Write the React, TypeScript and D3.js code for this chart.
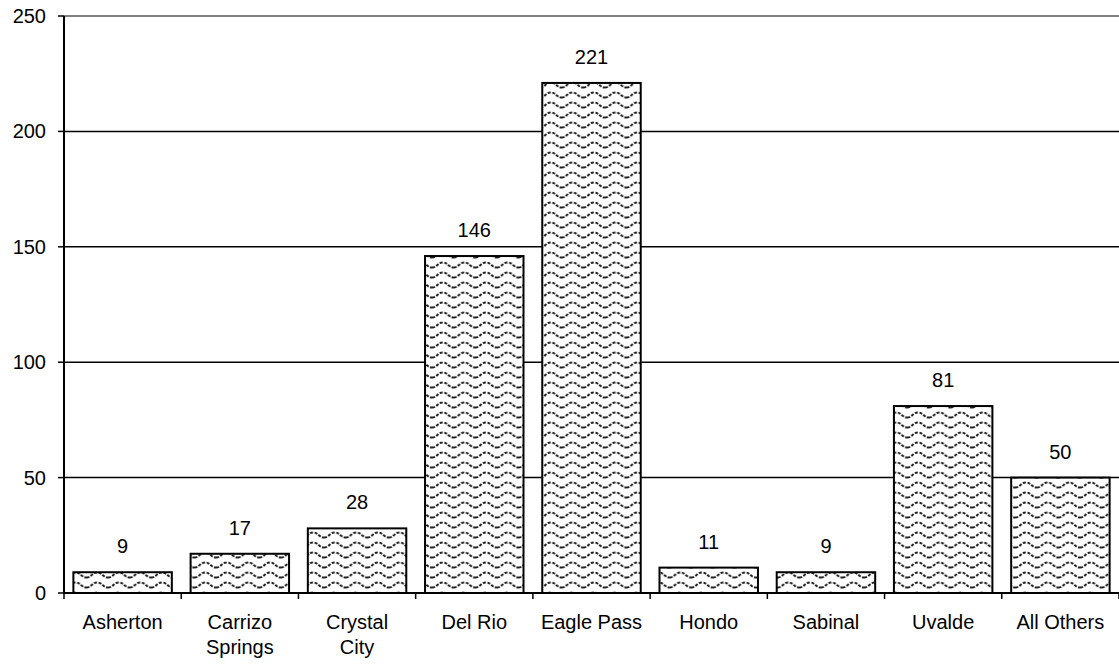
import React from "react";
import * as d3 from "d3";

const categories: string[][] = [
  ["Asherton"],
  ["Carrizo", "Springs"],
  ["Crystal", "City"],
  ["Del Rio"],
  ["Eagle Pass"],
  ["Hondo"],
  ["Sabinal"],
  ["Uvalde"],
  ["All Others"],
];
const values: number[] = [9, 17, 28, 146, 221, 11, 9, 81, 50];
const yTicks: number[] = [0, 50, 100, 150, 200, 250];

const W = 1119;
const H = 666;
const left = 64;
const right = 1119;
const top = 16;
const bottom = 593;

export default function App() {
  const ids = categories.map((_, i) => String(i));
  const x = d3.scaleBand<string>().domain(ids).range([left, right]).paddingInner(0.16).paddingOuter(0.08);
  const xTick = d3.scaleLinear().domain([0, categories.length]).range([left, right]);
  const y = d3.scaleLinear().domain([0, 250]).range([bottom, top]);
  const font = "'Liberation Sans', Arial, sans-serif";
  const fs = 20;

  return (
    <svg
      width={W}
      height={H}
      style={{ position: "absolute", left: 0, top: 0, background: "#fff" }}
    >
      <defs>
        <pattern id="wave" patternUnits="userSpaceOnUse" width={21.6} height={10}>
          <rect width={21.6} height={10} fill="#fff" />
          <path
            d="M0,7.5 C5.4,7.5 5.4,2.5 10.8,2.5 C16.2,2.5 16.2,7.5 21.6,7.5"
            fill="none"
            stroke="#1e1e1e"
            strokeWidth={2}
            strokeDasharray="3 1.5"
          />
        </pattern>
      </defs>

      {/* top border */}
      <line x1={left} x2={right} y1={top} y2={top} stroke="#808080" strokeWidth={2} />

      {/* gridlines */}
      {yTicks
        .filter((t) => t !== 0 && t !== 250)
        .map((t) => (
          <line key={t} x1={left} x2={right} y1={y(t)} y2={y(t)} stroke="#000" strokeWidth={1.5} />
        ))}

      {/* bars */}
      {values.map((v, i) => (
        <g key={i}>
          <rect
            x={x(String(i))}
            y={y(v)}
            width={x.bandwidth()}
            height={bottom - y(v)}
            fill="url(#wave)"
            stroke="#000"
            strokeWidth={2}
          />
          <text
            x={(x(String(i)) as number) + x.bandwidth() / 2}
            y={y(v) - 19}
            textAnchor="middle"
            fontFamily={font}
            fontSize={fs}
            fill="#000"
          >
            {v}
          </text>
        </g>
      ))}

      {/* y axis */}
      <line x1={left} x2={left} y1={top} y2={bottom} stroke="#000" strokeWidth={2} />
      {yTicks.map((t) => (
        <g key={t}>
          <line x1={left - 6} x2={left} y1={y(t)} y2={y(t)} stroke="#000" strokeWidth={1.5} />
          <text
            x={left - 18}
            y={y(t)}
            dy="0.35em"
            textAnchor="end"
            fontFamily={font}
            fontSize={fs}
            fill="#000"
          >
            {t}
          </text>
        </g>
      ))}

      {/* x axis */}
      <line x1={left} x2={right} y1={bottom} y2={bottom} stroke="#000" strokeWidth={2} />
      {d3.range(categories.length + 1).map((k) => (
        <line key={k} x1={xTick(k)} x2={xTick(k)} y1={bottom} y2={bottom + 6} stroke="#000" strokeWidth={1.5} />
      ))}
      {categories.map((lines, i) => (
        <text
          key={i}
          x={(x(String(i)) as number) + x.bandwidth() / 2}
          y={629}
          textAnchor="middle"
          fontFamily={font}
          fontSize={fs}
          fill="#000"
        >
          {lines.map((l, j) => (
            <tspan key={j} x={(x(String(i)) as number) + x.bandwidth() / 2} dy={j === 0 ? 0 : 25}>
              {l}
            </tspan>
          ))}
        </text>
      ))}
    </svg>
  );
}
